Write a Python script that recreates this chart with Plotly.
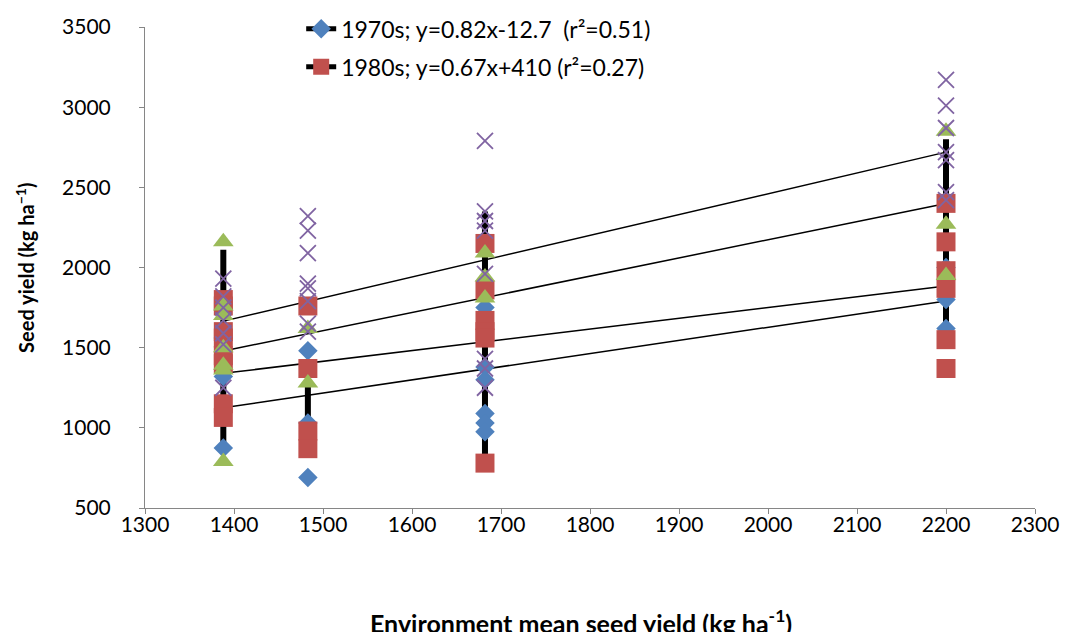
import plotly.graph_objects as go

# ---------------- data ----------------
env_x = [1388, 1483, 1682, 2200]

yield_1970s = [
    [1740, 1560, 1320, 874],
    [1480, 1030, 690],
    [1750, 1380, 1300, 1090, 1030, 975],
    [2000, 1800, 1620],
]
yield_1980s = [
    [1800, 1760, 1600, 1560, 1450, 1400, 1150, 1065],
    [1760, 1370, 980, 870],
    [2150, 1860, 1670, 1600, 1560, 780],
    [2400, 2160, 1980, 1870, 1550, 1370],
]
yield_s3 = [
    [2160, 1760, 1700, 1500, 1390, 1360, 790],
    [1620, 1280],
    [2090, 1940, 1810],
    [2850, 2270, 1950],
]
yield_s4 = [
    [1930, 1820, 1750, 1670, 1590, 1520, 1250],
    [2320, 2230, 2090, 1900, 1870, 1790, 1650, 1600],
    [2790, 2350, 2290, 2230, 1960, 1430, 1370, 1250],
    [3170, 3010, 2870, 2720, 2670, 2470, 2420],
]

stem_low = [880, 1050, 790, 1560]
stem_high = [2110, 1290, 2350, 2800]

fit_slope = [0.82, 0.67, 1.134, 1.298]
fit_intercept = [-12.7, 410, -95, -136]

legend_labels = [
    "1970s; y=0.82x-12.7\u00a0 (r\u00b2=0.51)",
    "1980s; y=0.67x+410 (r\u00b2=0.27)",
]

x_ticks = list(range(1300, 2301, 100))
y_ticks = list(range(500, 3501, 500))

# ---------------- styles ----------------
FONT = "Lato"
series_styles = [
    dict(symbol="diamond", color="#4F81BD", size=15),
    dict(symbol="square", color="#C0504D", size=19),
    dict(symbol="triangle-up", color="#9BBB59", size=18),
    dict(symbol="x-thin-open", color="#8064A2", size=16),
]

fig = go.Figure()

# thick black vertical connecting lines (drawn first, beneath markers)
sx, sy = [], []
for x, lo, hi in zip(env_x, stem_low, stem_high):
    sx += [x, x, None]
    sy += [lo, hi, None]
fig.add_trace(go.Scatter(x=sx, y=sy, mode="lines",
                         line=dict(color="black", width=6),
                         showlegend=False, hoverinfo="skip"))

# regression lines
xmin, xmax = min(env_x), max(env_x)
for m, b in zip(fit_slope, fit_intercept):
    fig.add_trace(go.Scatter(x=[xmin, xmax], y=[m * xmin + b, m * xmax + b],
                             mode="lines", line=dict(color="black", width=1.5),
                             showlegend=False, hoverinfo="skip"))

# markers
for data, st in zip([yield_1970s, yield_1980s, yield_s3, yield_s4], series_styles):
    xs, ys = [], []
    for x, vals in zip(env_x, data):
        xs += [x] * len(vals)
        ys += vals
    mk = dict(symbol=st["symbol"], size=st["size"], color=st["color"])
    if st["symbol"].endswith("open"):
        mk["line"] = dict(color=st["color"], width=1.8)
    else:
        mk["line"] = dict(width=0)
    fig.add_trace(go.Scatter(x=xs, y=ys, mode="markers", marker=mk,
                             showlegend=False))

# legend entries (line + marker)
for i, (lab, st) in enumerate(zip(legend_labels, series_styles[:2])):
    fig.add_trace(go.Scatter(x=[None], y=[None], mode="lines+markers", name=lab,
                             line=dict(color="black", width=5),
                             marker=dict(symbol=st["symbol"], size=st["size"],
                                         color=st["color"], line=dict(width=0)),
                             legend="legend" if i == 0 else "legend2"))

axis_common = dict(showline=True, linecolor="#868686", linewidth=1,
                   ticks="outside", ticklen=5, tickcolor="#868686",
                   showgrid=False, zeroline=False, automargin=False,
                   tickfont=dict(family=FONT, size=21, color="black"))

fig.update_layout(
    width=1065, height=632,
    margin=dict(l=145, r=30, t=27, b=124, autoexpand=False),
    plot_bgcolor="white", paper_bgcolor="white",
    xaxis=dict(range=[1300, 2300], tickvals=x_ticks, ticklabelstandoff=-7,
               **axis_common),
    yaxis=dict(range=[500, 3500], tickvals=y_ticks, ticklabelstandoff=24,
               **axis_common),
    legend=dict(x=0.1755, y=1.041, xanchor="left", yanchor="top",
                bgcolor="rgba(0,0,0,0)",
                font=dict(family=FONT, size=23, color="black")),
    legend2=dict(x=0.1755, y=0.962, xanchor="left", yanchor="top",
                 bgcolor="rgba(0,0,0,0)",
                 font=dict(family=FONT, size=23, color="black")),
    annotations=[
        dict(text="<b>Seed yield (kg ha<sup>\u22121</sup>)</b>", textangle=-90,
             xref="paper", yref="paper", x=-0.1355, y=0.5,
             xanchor="center", yanchor="middle", showarrow=False,
             font=dict(family=FONT, size=20, color="black")),
        dict(text="<b>Environment mean seed yield (kg ha<sup>-1</sup>)</b>",
             xref="paper", yref="paper", x=0.49, y=-0.236,
             xanchor="center", yanchor="middle", showarrow=False,
             font=dict(family=FONT, size=25, color="black")),
    ],
)

fig.write_html("out.html")
